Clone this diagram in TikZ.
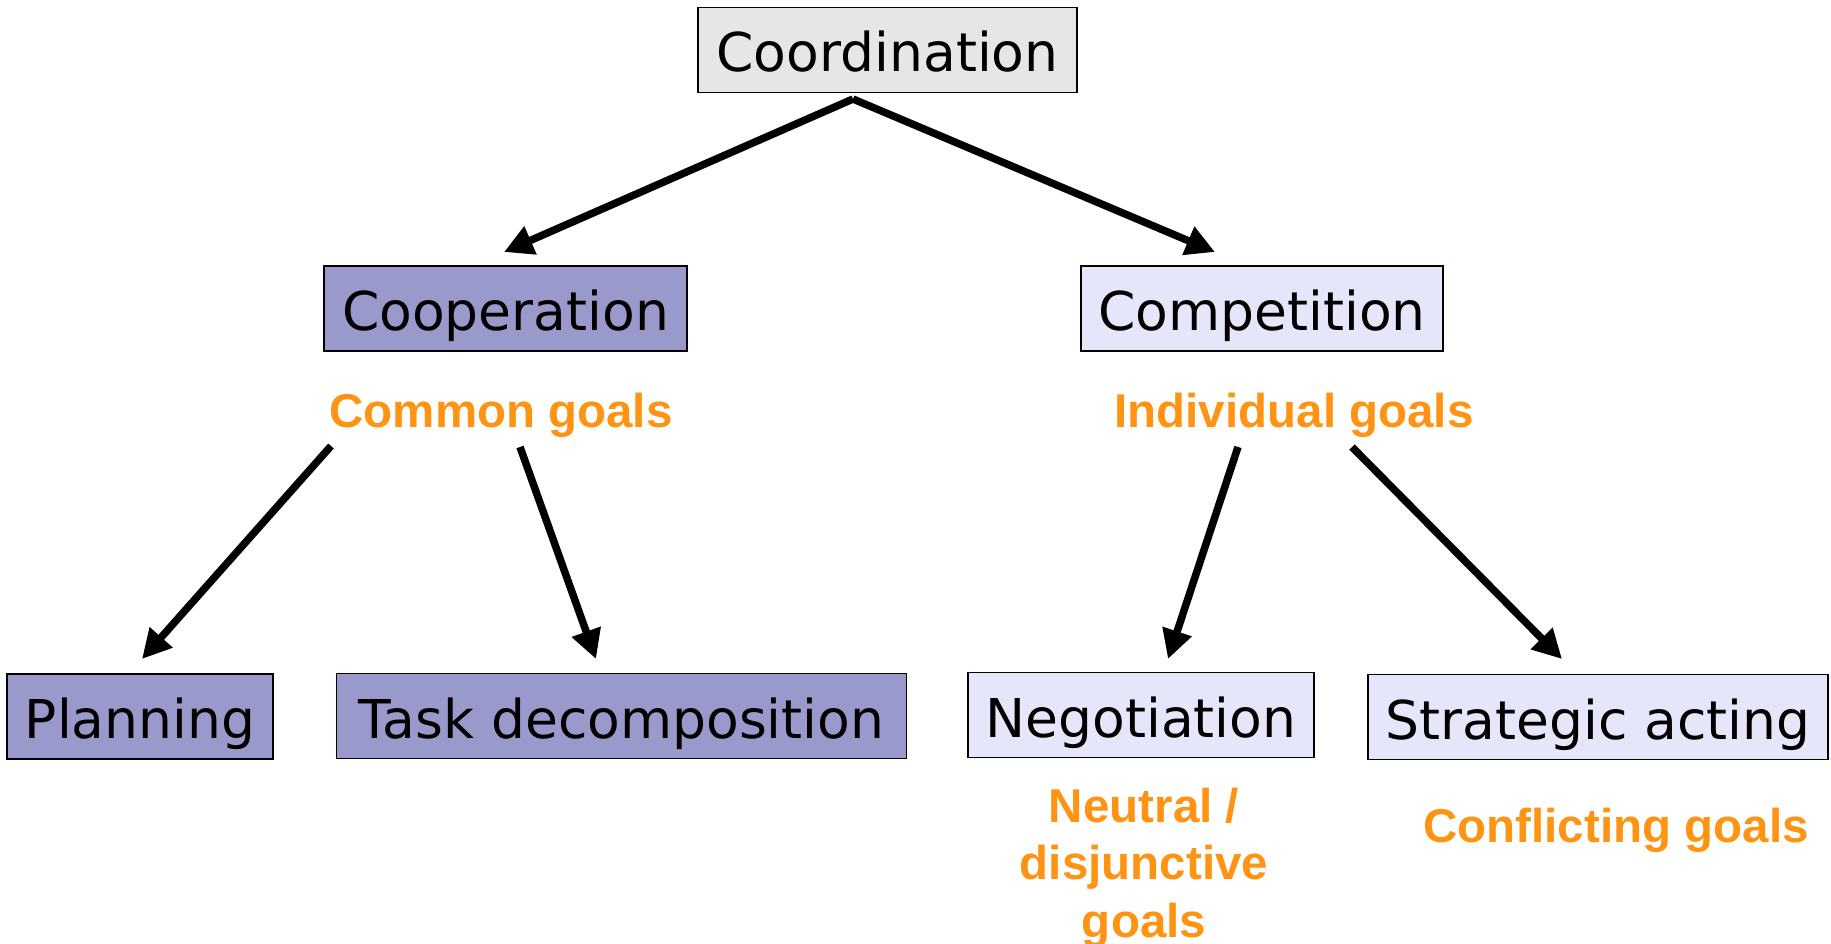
\documentclass[tikz,border=0pt]{standalone}
\usepackage{fontspec}
\setmainfont{DejaVu Sans}
\newfontfamily\goalfont{Liberation Sans}
\usetikzlibrary{arrows.meta}
\definecolor{goalorange}{RGB}{255,148,20}
\definecolor{rootfill}{RGB}{230,230,230}
\definecolor{coopfill}{RGB}{153,153,204}
\definecolor{compfill}{RGB}{230,230,250}
\tikzset{
  box/.style={draw=black, line width=1.5pt, minimum height=85pt, inner sep=0pt,
    text height=44pt, text depth=0pt, font=\fontsize{53.5}{64}\selectfont},
  goal/.style={text=goalorange, inner sep=0pt, align=center, anchor=base,
    font=\goalfont\bfseries\fontsize{47.5}{57.5}\selectfont},
  link/.style={line width=7.5pt, -{Triangle[length=29pt,width=29pt]}}
}
\begin{document}
\begin{tikzpicture}[x=1pt, y=-1pt]
  \useasboundingbox (0,0) rectangle (1831,944);

  % boxes
  \node[box, fill=rootfill, minimum width=379pt] (coord) at (887.5,50) {Coordination};
  \node[box, fill=coopfill, minimum width=363pt] (coop) at (505.5,308.5) {Cooperation};
  \node[box, fill=compfill, minimum width=362pt] (comp) at (1262,308.5) {Competition};
  \node[box, fill=coopfill, minimum width=266pt] (plan) at (140,716.5) {Planning};
  \node[box, fill=coopfill, minimum width=570pt] (task) at (621.5,716) {Task decomposition};
  \node[box, fill=compfill, minimum width=346pt] (nego) at (1141,715) {Negotiation};
  \node[box, fill=compfill, minimum width=460pt] (strat) at (1598,717) {Strategic acting};

  % goal labels (a multi-line label is placed by the baseline of its last line)
  \node[goal] (common) at (501,427) {Common goals};
  \node[goal] (indiv) at (1294,427) {Individual goals};
  \node[goal] (neutral) at (1144,937) {Neutral /\\disjunctive\\goals};
  \node[goal] (conflict) at (1616,842) {Conflicting goals};

  % connector end points
  \coordinate (apex) at (853,99);
  \coordinate (coopin) at (504,252);
  \coordinate (compin) at (1215,252);
  \coordinate (cgA) at (331,446);
  \coordinate (cgB) at (520,447);
  \coordinate (igA) at (1238,447);
  \coordinate (igB) at (1352,447);
  \coordinate (planin) at (142,659);
  \coordinate (taskin) at (596,659);
  \coordinate (negoin) at (1168,659);
  \coordinate (stratin) at (1562,659);

  % connectors
  \draw[link] (apex) -- (coopin);
  \draw[link] (apex) -- (compin);
  \draw[link] (cgA) -- (planin);
  \draw[link] (cgB) -- (taskin);
  \draw[link] (igA) -- (negoin);
  \draw[link] (igB) -- (stratin);
\end{tikzpicture}
\end{document}
